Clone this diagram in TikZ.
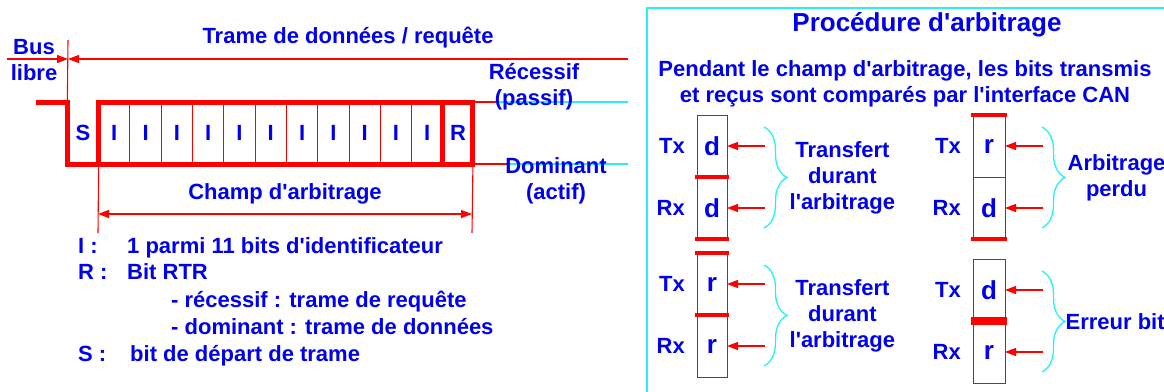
\documentclass[tikz,border=0pt]{standalone}
\usepackage{fontspec}
\setmainfont{Liberation Sans}[Ligatures=TeXOff]
\usepackage{tikz}
\usetikzlibrary{positioning, arrows.meta, decorations.pathreplacing}
\usepackage{xcolor}

\definecolor{canblue}{RGB}{0,0,235}
\definecolor{canred}{RGB}{255,0,0}
\definecolor{cancyan}{RGB}{40,240,240}

\tikzset{
    lbl/.style={text=canblue, font=\bfseries\fontsize{22}{26}\selectfont, inner sep=0pt},
    cell/.style={lbl, draw=canred, line width=1pt, minimum width=31.3pt, minimum height=62pt, outer sep=0pt},
    sig/.style={draw=canred, line width=5pt},
    dim/.style={draw=canred, line width=1.1pt},
    cy/.style={draw=cancyan, line width=1.5pt},
    bitbox/.style={draw=canred, line width=1pt, minimum width=30pt, minimum height=62pt, inner sep=0pt, outer sep=0pt, text=canblue, font=\bfseries\fontsize{26}{28}\selectfont},
    bar/.style={draw=canred, line width=4.5pt},
    brc/.style={draw=cancyan, line width=1.3pt, decorate, decoration={brace, amplitude=23pt}},
    brctxt/.style={lbl, align=center, anchor=west, xshift=25pt}
}

\begin{document}
\begin{tikzpicture}[x=1pt, y=-1pt, node distance=0pt, >={Triangle[length=11pt,width=8pt]}]
    \useasboundingbox (0,0) rectangle (1164,391);

    % Trame sur le bus
    \node[cell, draw=none] (S) at (83,133) {S};
    \node[cell, right=of S] (I1) {I};
    \foreach \i [count=\j from 2] in {1,...,10}
        \node[cell, right=of I\i] (I\j) {I};
    \node[cell, right=of I11, minimum width=30pt] (R) {R};

    \coordinate (idle) at (36,102);
    \draw[sig] (idle) -- (S.north west) -- (S.south west) -- (R.south east) -- (R.north east) -- (I1.north west) -- (I1.south west);
    \draw[sig] (R.north west) -- (R.south west);

    % Bus libre / trame
    \coordinate (busTop) at (68,40);
    \coordinate (busL) at (7,59);
    \coordinate (busM) at (68,59);
    \coordinate (busR) at (628,59);
    \draw[dim] (busTop) -- (S.north west);
    \draw[dim, ->] (busL) -- (busM);
    \draw[dim, ->] (busR) -- (busM);
    \node[lbl, align=center] (bus) at (34,60) {Bus\\libre};
    \node[lbl] (trame) at (348,38) {Trame de données / requête};

    % Niveaux
    \coordinate (recA) at (497,102);
    \coordinate (recB) at (628,102);
    \coordinate (domA) at (507,164);
    \coordinate (domB) at (628,164);
    \draw[dim] (R.north east) -- (recA);
    \draw[cy] (recA) -- (recB);
    \draw[dim] (R.south east) -- (domA);
    \draw[cy] (domA) -- (domB);
    \node[lbl, align=center] (rec) at (534,87) {Récessif\\(passif)};
    \node[lbl, align=center] (dom) at (556,181) {Dominant\\(actif)};

    % Champ d'arbitrage
    \coordinate (chL) at (98,233);
    \coordinate (chR) at (472,233);
    \coordinate (chLa) at (98,214);
    \coordinate (chRa) at (472,214);
    \draw[dim] (I1.south west) -- (chL);
    \draw[dim] (R.south east) -- (chR);
    \draw[dim, <->] (chLa) -- (chRa);
    \node[lbl] (champ) at (285,194) {Champ d'arbitrage};

    % Legende
    \node[lbl, anchor=base west] (keyI) at (78,253) {I :};
    \node[lbl, anchor=base west] (txtI) at (127,253) {1 parmi 11 bits d'identificateur};
    \node[lbl, anchor=base west] (keyR) at (78,279) {R :};
    \node[lbl, anchor=base west] (txtR) at (127,279) {Bit RTR};
    \node[lbl, anchor=base west] (txtRr) at (171,307) {- récessif : trame de requête};
    \node[lbl, anchor=base west] (txtRd) at (171,334) {- dominant : trame de données};
    \node[lbl, anchor=base west] (keyS) at (78,361) {S :};
    \node[lbl, anchor=base west] (txtS) at (130,361) {bit de départ de trame};

    % Procedure d'arbitrage
    \draw[cy] (1170,8) -- (647,8) -- (647,400);
    \node[lbl, font=\bfseries\fontsize{26}{30}\selectfont] (titre) at (927,25) {Procédure d'arbitrage};
    \node[lbl, align=center] (intro) at (905,84) {Pendant le champ d'arbitrage, les bits transmis\\et reçus sont comparés par l'interface CAN};

    \node[bitbox] (tx1) at (712,146) {d};
    \node[bitbox, below=of tx1] (rx1) {d};
    \node[bitbox] (tx2) at (712,284) {r};
    \node[bitbox, below=of tx2] (rx2) {r};
    \node[bitbox, minimum width=32pt] (tx3) at (989,146) {r};
    \node[bitbox, minimum width=32pt, below=of tx3] (rx3) {d};
    \node[bitbox, minimum width=32pt] (tx4) at (989,290) {d};
    \node[bitbox, minimum width=32pt, below=of tx4] (rx4) {r};

    \foreach \b in {1,...,4} {
        \node[lbl, left=12pt of tx\b] (tx\b-lbl) {Tx};
        \node[lbl, left=12pt of rx\b] (rx\b-lbl) {Rx};
        \coordinate[right=38pt of tx\b.east] (tx\b-in);
        \coordinate[right=38pt of rx\b.east] (rx\b-in);
        \draw[dim, ->] (tx\b-in) -- (tx\b.east);
        \draw[dim, ->] (rx\b-in) -- (rx\b.east);
    }

    \draw[bar] ([xshift=-2pt]tx1.south west) -- ([xshift=2pt]tx1.south east);
    \draw[bar] ([xshift=-2pt]rx1.south west) -- ([xshift=2pt]rx1.south east);
    \draw[bar] ([xshift=-2pt]tx2.north west) -- ([xshift=2pt]tx2.north east);
    \draw[bar] ([xshift=-2pt]tx2.south west) -- ([xshift=2pt]tx2.south east);
    \draw[bar] ([xshift=-2pt]tx3.north west) -- ([xshift=2pt]tx3.north east);
    \draw[bar] ([xshift=-2pt]rx3.south west) -- ([xshift=2pt]rx3.south east);
    \draw[bar, line width=8pt] ([xshift=-2pt]tx4.south west) -- ([xshift=2pt]tx4.south east);

    \draw[brc] ([xshift=37pt,yshift=-12pt]tx1.north east) -- node[brctxt] (res1) {Transfert\\durant\\l'arbitrage} ([xshift=37pt,yshift=11pt]rx1.south east);
    \draw[brc] ([xshift=37pt,yshift=-12pt]tx2.north east) -- node[brctxt] (res2) {Transfert\\durant\\l'arbitrage} ([xshift=37pt,yshift=11pt]rx2.south east);
    \draw[brc] ([xshift=37pt,yshift=-12pt]tx3.north east) -- node[brctxt] (res3) {Arbitrage\\perdu} ([xshift=37pt,yshift=11pt]rx3.south east);
    \draw[brc] ([xshift=37pt,yshift=-12pt]tx4.north east) -- node[brctxt, xshift=-2pt] (res4) {Erreur bit} ([xshift=37pt,yshift=11pt]rx4.south east);
\end{tikzpicture}
\end{document}
